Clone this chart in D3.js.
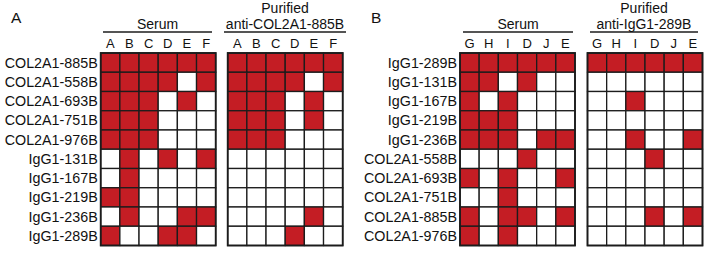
<!DOCTYPE html>
<html>
<head>
<meta charset="utf-8">
<script src="https://cdn.jsdelivr.net/npm/d3@7"></script>
<style>
  body { margin: 0; background: #fff; }
  text { font-family: "Liberation Sans", Arial, sans-serif; fill: #111; }
</style>
</head>
<body>
<div id="chart"></div>
<script>
// Data
var rowsA = ["COL2A1-885B", "COL2A1-558B", "COL2A1-693B", "COL2A1-751B", "COL2A1-976B",
             "IgG1-131B", "IgG1-167B", "IgG1-219B", "IgG1-236B", "IgG1-289B"];
var colsA = ["A", "B", "C", "D", "E", "F"];
var serumA = [
  [1,1,1,1,1,1],
  [1,1,1,1,0,1],
  [1,1,1,0,1,0],
  [1,1,1,0,0,0],
  [1,1,1,0,0,0],
  [0,1,0,1,0,1],
  [0,1,0,0,0,0],
  [1,1,0,0,0,0],
  [0,1,0,0,1,1],
  [1,0,0,1,1,0]
];
var purifiedA = [
  [1,1,1,1,1,1],
  [1,1,1,1,0,1],
  [1,1,1,0,1,0],
  [1,1,1,0,1,0],
  [1,1,1,0,0,0],
  [0,0,0,0,0,0],
  [0,0,0,0,0,0],
  [0,0,0,0,0,0],
  [0,0,0,0,1,0],
  [0,0,0,1,0,0]
];

var rowsB = ["IgG1-289B", "IgG1-131B", "IgG1-167B", "IgG1-219B", "IgG1-236B",
             "COL2A1-558B", "COL2A1-693B", "COL2A1-751B", "COL2A1-885B", "COL2A1-976B"];
var colsB = ["G", "H", "I", "D", "J", "E"];
var serumB = [
  [1,1,1,1,1,1],
  [1,1,0,1,0,0],
  [1,0,1,0,0,0],
  [1,1,1,0,0,0],
  [1,1,1,0,1,1],
  [0,0,0,1,0,0],
  [1,0,1,0,0,1],
  [0,0,1,0,0,0],
  [1,0,1,1,0,1],
  [1,0,1,0,0,0]
];
var purifiedB = [
  [1,1,1,1,1,1],
  [0,0,0,0,0,0],
  [0,0,1,0,0,0],
  [0,0,0,0,0,0],
  [0,0,1,0,0,1],
  [0,0,0,1,0,0],
  [0,0,0,0,0,0],
  [0,0,0,0,0,0],
  [0,0,0,1,0,1],
  [0,0,0,0,0,0]
];

// Parameters
var width = 709, height = 253;
var gridTop = 53, gridBottom = 245.5;
var red = "#c41d24";
var edge = "#1c1c1c";

var svg = d3.select("#chart").append("svg")
    .attr("width", width)
    .attr("height", height);

function drawGrid(x0, x1, rows, cols, values, showRows) {
    var x = d3.scaleBand().domain(cols).range([x0, x1]);
    var y = d3.scaleBand().domain(rows).range([gridTop, gridBottom]);
    var g = svg.append("g");

    var cells = [];
    values.forEach(function(r, i) {
        r.forEach(function(v, j) {
            cells.push({row: rows[i], col: cols[j], v: v});
        });
    });

    g.selectAll("rect.cell").data(cells).enter().append("rect")
        .attr("class", "cell")
        .attr("x", function(d) { return x(d.col); })
        .attr("y", function(d) { return y(d.row); })
        .attr("width", x.bandwidth())
        .attr("height", y.bandwidth())
        .attr("fill", function(d) { return d.v ? red : "#fff"; })
        .attr("stroke", edge)
        .attr("stroke-width", 1.3);

    g.append("rect")
        .attr("x", x0).attr("y", gridTop)
        .attr("width", x1 - x0).attr("height", gridBottom - gridTop)
        .attr("fill", "none").attr("stroke", edge).attr("stroke-width", 1.8);

    g.selectAll("text.col").data(cols).enter().append("text")
        .attr("class", "col")
        .attr("x", function(d) { return x(d) + x.bandwidth() / 2; })
        .attr("y", 48)
        .attr("text-anchor", "middle")
        .style("font-size", "13px")
        .text(function(d) { return d; });

    if (showRows) {
        g.selectAll("text.row").data(rows).enter().append("text")
            .attr("class", "row")
            .attr("x", x0 - 3)
            .attr("y", function(d) { return y(d) + y.bandwidth() / 2 + 5; })
            .attr("text-anchor", "end")
            .style("font-size", "14.3px")
            .text(function(d) { return d; });
    }
}

function header(x0, x1, lines) {
    var cx = (x0 + x1) / 2;
    svg.append("line")
        .attr("x1", x0).attr("x2", x1).attr("y1", 32).attr("y2", 32)
        .attr("stroke", edge).attr("stroke-width", 1.3);
    lines.forEach(function(t, i) {
        svg.append("text")
            .attr("x", cx)
            .attr("y", 29 - (lines.length - 1 - i) * 16.5)
            .attr("text-anchor", "middle")
            .style("font-size", "14px")
            .text(t);
    });
}

function panelLabel(x, t) {
    svg.append("text").attr("x", x).attr("y", 23)
        .style("font-size", "15.5px").text(t);
}

// Panel A
panelLabel(11, "A");
drawGrid(100.7, 215.7, rowsA, colsA, serumA, true);
drawGrid(227.7, 342.7, rowsA, colsA, purifiedA, false);
header(103, 212, ["Serum"]);
header(224, 346, ["Purified", "anti-COL2A1-885B"]);

// Panel B
panelLabel(371, "B");
drawGrid(460, 575, rowsB, colsB, serumB, true);
drawGrid(587.5, 702.5, rowsB, colsB, purifiedB, false);
header(463, 573, ["Serum"]);
header(590, 698, ["Purified", "anti-IgG1-289B"]);
</script>
</body>
</html>
